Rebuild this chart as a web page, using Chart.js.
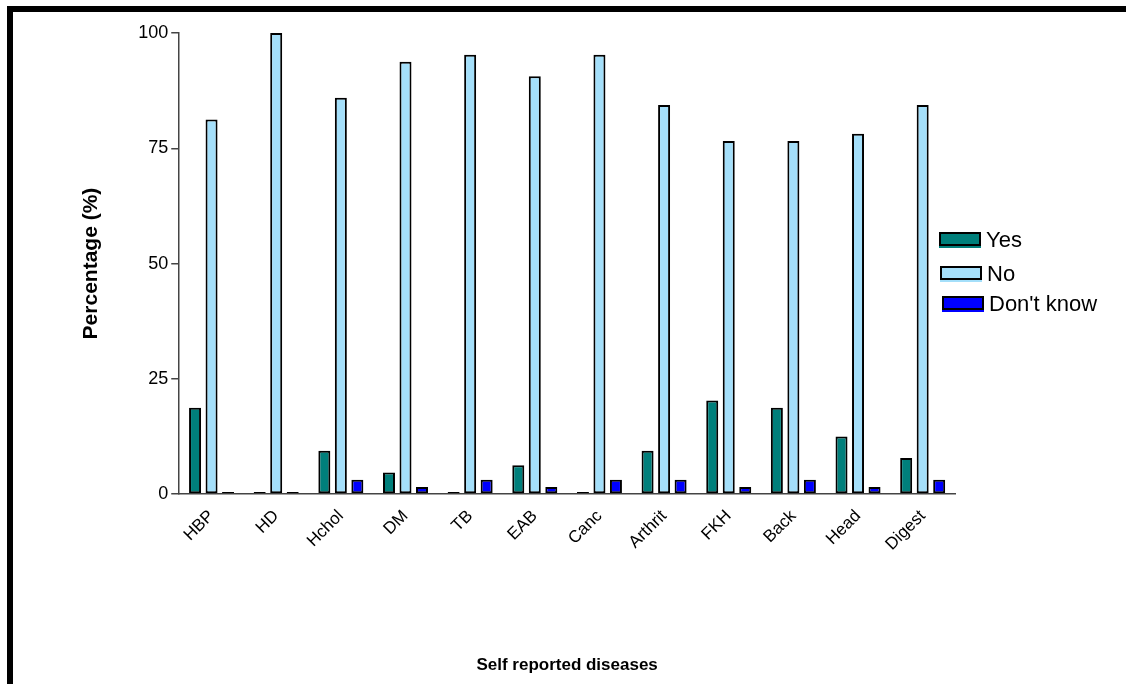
<!DOCTYPE html>
<html>
<head>
<meta charset="utf-8">
<script src="https://cdn.jsdelivr.net/npm/chart.js@4/dist/chart.umd.min.js"></script>
<style>
  html, body { margin: 0; padding: 0; background: #fff; overflow: hidden; }
  #wrap { position: relative; width: 1126px; height: 684px; }
  #chart { position: absolute; left: 0; top: 0; }
  #frame {
    position: absolute; left: 7px; top: 6px; width: 1300px; height: 900px;
    border-top: 6px solid #000; border-left: 6px solid #000; pointer-events: none;
  }
  #legend { position: absolute; left: 939px; top: 229px; font-family: "Liberation Sans", Arial, sans-serif; }
  .item { position: absolute; left: 0; height: 20px; white-space: nowrap; }
  .swatch {
    position: absolute; left: 0; top: 3px; width: 38px; height: 10px;
    border: 2px solid #000;
  }
  .label { position: absolute; left: 47px; top: -2px; font-size: 22px; color: #000; line-height: 26px; }
</style>
</head>
<body>
<div id="wrap">
  <canvas id="chart" width="1126" height="684"></canvas>
  <div id="legend"></div>
  <div id="frame"></div>
</div>
<script>
// Self reported diseases, percentage of respondents per answer
const categories = ['HBP', 'HD', 'Hchol', 'DM', 'TB', 'EAB', 'Canc', 'Arthrit', 'FKH', 'Back', 'Head', 'Digest'];
const seriesNames = ['Yes', 'No', "Don't know"];
const yesValues = [18.75, 0, 9.38, 4.69, 0, 6.25, 0, 9.38, 20.31, 18.75, 12.5, 7.81];
const noValues = [81.25, 100, 85.94, 93.75, 95.31, 90.63, 95.31, 84.38, 76.56, 76.56, 78.13, 84.38];
const dontKnowValues = [0, 0, 3.13, 1.56, 3.13, 1.56, 3.13, 3.13, 1.56, 3.13, 1.56, 3.13];
const yTicks = [0, 25, 50, 75, 100];

const seriesColors = ['#007f7b', '#a4dffa', '#0000ff'];
const seriesValues = [yesValues, noValues, dontKnowValues];

const font = "'Liberation Sans', Arial, sans-serif";

const datasets = seriesNames.map((name, i) => ({
  label: name,
  data: seriesValues[i],
  backgroundColor: seriesColors[i],
  borderColor: '#000',
  borderWidth: 2,
  borderSkipped: false,
  minBarLength: 2,
  categoryPercentage: 0.766,
  barPercentage: 0.727
}));

new Chart(document.getElementById('chart'), {
  type: 'bar',
  data: { labels: categories, datasets },
  options: {
    responsive: false,
    animation: false,
    events: [],
    layout: { padding: { left: 0, right: 171, top: 33, bottom: 0 } },
    plugins: { legend: { display: false }, tooltip: { enabled: false } },
    scales: {
      x: {
        grid: { display: false },
        border: { display: true, color: '#444', width: 1.5, z: 1 },
        ticks: {
          color: '#000', font: { family: font, size: 17 },
          minRotation: 45, maxRotation: 45, autoSkip: false, padding: 4
        },
        title: {
          display: true, text: 'Self reported diseases', color: '#000',
          font: { family: font, size: 17, weight: 'bold' },
          padding: { top: 97, bottom: 8 }
        }
      },
      y: {
        min: 0, max: 100,
        afterBuildTicks: (scale) => { scale.ticks = yTicks.map(v => ({ value: v })); },
        grid: { drawOnChartArea: false, drawTicks: true, tickLength: 8, color: '#444', lineWidth: 1.5 },
        border: { display: true, color: '#444', width: 1.5 },
        ticks: { color: '#000', font: { family: font, size: 18 }, padding: 3 },
        title: {
          display: true, text: 'Percentage (%)', color: '#000',
          font: { family: font, size: 21, weight: 'bold' },
          padding: { top: 79, bottom: 31 }
        }
      }
    }
  }
});

// Legend built from the series names and colours
const legend = document.getElementById('legend');
const legendTops = [0, 34, 64];
const legendShift = [0, 1, 3];
seriesNames.forEach((name, i) => {
  const item = document.createElement('div');
  item.className = 'item';
  item.style.top = legendTops[i] + 'px';
  item.style.left = legendShift[i] + 'px';
  const sw = document.createElement('div');
  sw.className = 'swatch';
  sw.style.background = seriesColors[i];
  sw.style.boxShadow = '0 2px 0 ' + seriesColors[i];
  const lb = document.createElement('div');
  lb.className = 'label';
  lb.textContent = name;
  item.appendChild(sw);
  item.appendChild(lb);
  legend.appendChild(item);
});
</script>
</body>
</html>
